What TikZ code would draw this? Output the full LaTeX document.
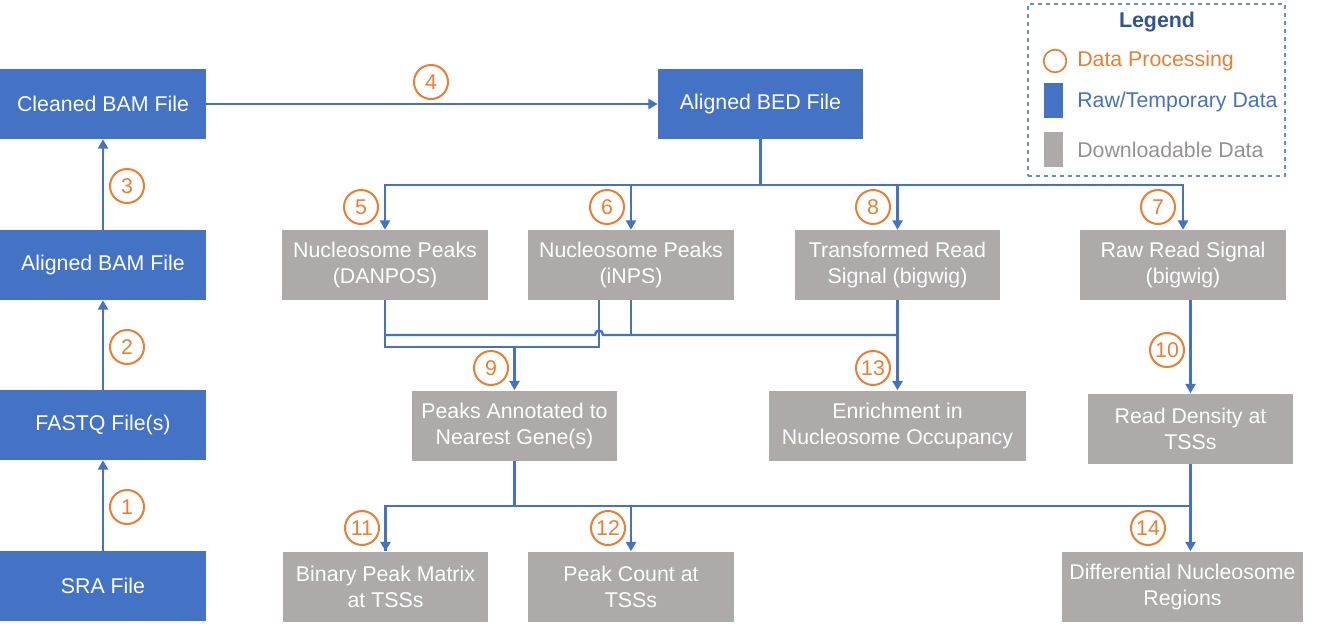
\documentclass[tikz,border=0pt]{standalone}
\usepackage{fontspec}
\setmainfont{Liberation Sans}
\usetikzlibrary{arrows.meta}
\definecolor{bblue}{HTML}{4472C4}
\definecolor{dblue}{HTML}{2F5597}
\definecolor{ggray}{HTML}{AEAAAA}
\definecolor{oorange}{HTML}{ED7D31}
\begin{document}
\begin{tikzpicture}[x=0.75pt,y=-0.75pt,
  font=\fontsize{16}{19.5}\selectfont,
  rawbox/.style={fill=bblue,text=white,minimum height=52.5pt,inner sep=0pt,align=center},
  dlbox/.style={fill=ggray,text=white,minimum height=52.5pt,inner sep=0pt,align=center},
  stepnum/.style={circle,draw=oorange,line width=1.5pt,text=oorange,minimum size=25.5pt,inner sep=0pt},
  link/.style={draw=bblue,line width=1.8pt},
  arr/.style={link,-{Triangle[length=7pt,width=7.5pt]}}]
\useasboundingbox (0,0) rectangle (1320,625);
% raw / temporary boxes
\node[rawbox,minimum width=154.5pt] (cbam) at (103,104) {Cleaned BAM File};
\node[rawbox,minimum width=154.5pt] (abam) at (103,265) {Aligned BAM File};
\node[rawbox,minimum width=154.5pt] (fastq) at (103,425) {FASTQ File(s)};
\node[rawbox,minimum width=154.5pt] (sra) at (103,586) {SRA File};
\node[rawbox,minimum width=153.75pt] (bed) at (760.5,104) {Aligned BED File};
% downloadable boxes
\node[dlbox,minimum width=154.5pt] (danpos) at (385,265) {Nucleosome Peaks\\(DANPOS)};
\node[dlbox,minimum width=154.5pt] (inps) at (631,265) {Nucleosome Peaks\\(iNPS)};
\node[dlbox,minimum width=153.75pt] (trans) at (897.5,265) {Transformed Read\\Signal (bigwig)};
\node[dlbox,minimum width=154.5pt] (raw) at (1183,265) {Raw Read Signal\\(bigwig)};
\node[dlbox,minimum width=153.75pt] (annot) at (514.5,425.5) {Peaks Annotated to\\Nearest Gene(s)};
\node[dlbox,minimum width=192.75pt] (enrich) at (897.5,425.5) {Enrichment in\\Nucleosome Occupancy};
\node[dlbox,minimum width=153.75pt] (dens) at (1190.5,428.5) {Read Density at\\TSSs};
\node[dlbox,minimum width=153.75pt] (binary) at (385.5,586.5) {Binary Peak Matrix\\at TSSs};
\node[dlbox,minimum width=154.5pt] (count) at (631,586.5) {Peak Count at\\TSSs};
\node[dlbox,minimum width=180.75pt] (diff) at (1182.5,586.5) {Differential Nucleosome\\Regions};
% left column
\draw[arr] (sra.north) -- (fastq.south);
\draw[arr] (fastq.north) -- (abam.south);
\draw[arr] (abam.north) -- (cbam.south);
\draw[arr] (cbam.east) -- (bed.west);
% top distribution
\coordinate (top) at (760.5,185);
\draw[link] (bed.south) -- (top);
\draw[arr] (top) -| (danpos.north);
\draw[arr] (top) -| (inps.north);
\draw[arr] (top) -| (trans.north);
\draw[arr] (top) -| (raw.north);
% middle merges
\coordinate (lowL) at (385,347);
\coordinate (lowR) at (599,347);
\coordinate (upL) at (385,335);
\coordinate (hopA) at (595,335);
\coordinate (hopB) at (603,335);
\coordinate (upR) at (897.5,335);
\draw[link] (danpos.south) -- (lowL) -- (lowR) -- (inps.south -| lowR);
\draw[link] (upL) -- (hopA) .. controls (595,329) and (603,329) .. (hopB) -- (upR);
\draw[link] (inps.south) -- (inps.south |- upL);
\draw[arr] (trans.south) -- (enrich.north);
\draw[arr] (annot.north |- lowL) -- (annot.north);
\draw[arr] (raw.south -| dens.north) -- (dens.north);
% bottom distribution
\coordinate (bot) at (514.5,506);
\draw[link] (annot.south) -- (bot);
\draw[link] (dens.south) -- (dens.south |- bot);
\draw[link] (bot) -| (binary.north);
\draw[link] (bot) -- (bot -| dens.south);
\draw[arr] (count.north |- bot) -- (count.north);
\draw[arr] (binary.north |- bot) -- (binary.north);
\draw[arr] (dens.south |- bot) -- (diff.north -| dens.south);
% step numbers
\node[stepnum] (c1) at (127,507) {1};
\node[stepnum] (c2) at (127,347) {2};
\node[stepnum] (c3) at (127,186) {3};
\node[stepnum] (c4) at (431,82) {4};
\node[stepnum] (c5) at (361,207) {5};
\node[stepnum] (c6) at (607,207) {6};
\node[stepnum] (c8) at (873,207) {8};
\node[stepnum] (c7) at (1158,207) {7};
\node[stepnum] (c9) at (491,368) {9};
\node[stepnum] (c13) at (873,368) {13};
\node[stepnum] (c10) at (1167,350) {10};
\node[stepnum] (c11) at (362,528) {11};
\node[stepnum] (c12) at (608,528) {12};
\node[stepnum] (c14) at (1148,528) {14};
% legend
\node[draw=bblue!80,dashed,line width=0.8pt,minimum width=192.75pt,minimum height=129pt,inner sep=0pt] (legend) at (1156.5,90) {};
\node[text=dblue,font=\fontsize{16}{19.5}\selectfont\bfseries] (legtitle) at (1157,22) {Legend};
\node[circle,draw=oorange,line width=1.3pt,minimum size=17pt,inner sep=0pt] (legc) at (1055,61) {};
\node[anchor=west,text=oorange,inner sep=0pt] (legct) at (1077,61) {Data Processing};
\node[fill=bblue,minimum width=14.25pt,minimum height=26.25pt,inner sep=0pt] (legb) at (1053.5,100.5) {};
\node[anchor=west,text=bblue,inner sep=0pt] (legbt) at (1077,102) {Raw/Temporary Data};
\node[fill=ggray,minimum width=14.25pt,minimum height=26.25pt,inner sep=0pt] (legg) at (1053.5,149.5) {};
\node[anchor=west,text=ggray!85!black,inner sep=0pt] (leggt) at (1077,150) {Downloadable Data};
\end{tikzpicture}
\end{document}
